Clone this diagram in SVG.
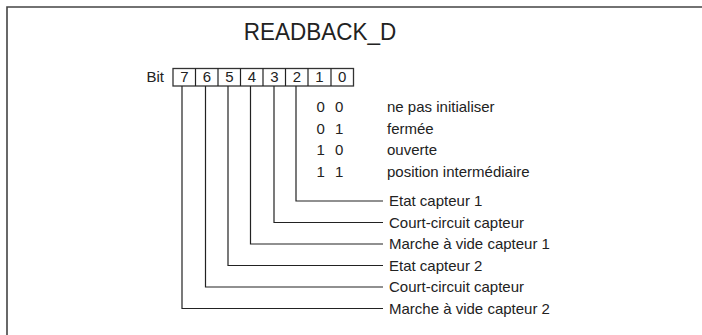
<svg xmlns="http://www.w3.org/2000/svg" width="702" height="335" viewBox="0 0 702 335">
<style>
text{font-family:"Liberation Sans",Arial,Helvetica,sans-serif;fill:#222;}
.t{font-size:15px;}
.d{font-size:15px;text-anchor:middle;}
.ln{stroke:#222;stroke-width:1.2;fill:none;}
.bx{stroke:#333;stroke-width:1.3;fill:#fff;}
</style>
<rect width="702" height="335" fill="#fff"/>
<g id="frame"><path d="M7,335 V7 H702" fill="none" stroke="#444" stroke-width="1.6"/></g>
<g id="title"><text x="320" y="40" text-anchor="middle" transform="translate(0,-4) scale(1,1.1)" style="font-size:22.5px">READBACK_D</text></g>
<g id="register">
<text class="t" x="146.5" y="81.5">Bit</text>
<rect class="bx" x="173" y="68.5" width="180.5" height="17.5"/>
<path class="ln" d="M195.5,68.5V86M218,68.5V86M240.5,68.5V86M263,68.5V86M285.5,68.5V86M308,68.5V86M331,68.5V86"/>
<text class="d" x="184.3" y="82">7</text>
<text class="d" x="206.8" y="82">6</text>
<text class="d" x="229.3" y="82">5</text>
<text class="d" x="251.8" y="82">4</text>
<text class="d" x="274.3" y="82">3</text>
<text class="d" x="296.8" y="82">2</text>
<text class="d" x="319.5" y="82">1</text>
<text class="d" x="342.2" y="82">0</text>
</g>
<g id="codes">
<text class="t" x="316.5" y="112">0</text><text class="t" x="335" y="112">0</text><text class="t" x="387" y="112">ne pas initialiser</text>
<text class="t" x="316.5" y="133.5">0</text><text class="t" x="335" y="133.5">1</text><text class="t" x="387" y="133.5">fermée</text>
<text class="t" x="316.5" y="155">1</text><text class="t" x="335" y="155">0</text><text class="t" x="387" y="155">ouverte</text>
<text class="t" x="316.5" y="176.5">1</text><text class="t" x="335" y="176.5">1</text><text class="t" x="387" y="176.5">position intermédiaire</text>
</g>
<g id="connectors">
<path class="ln" d="M296,86V201H383"/>
<path class="ln" d="M274,86V222.5H383"/>
<path class="ln" d="M250.5,86V244H383"/>
<path class="ln" d="M228,86V265.5H383"/>
<path class="ln" d="M205.5,86V287H383"/>
<path class="ln" d="M182,86V308.5H383"/>
</g>
<g id="labels">
<text class="t" x="389" y="206">Etat capteur 1</text>
<text class="t" x="389" y="227.5">Court-circuit capteur</text>
<text class="t" x="389" y="249">Marche à vide capteur 1</text>
<text class="t" x="389" y="270.5">Etat capteur 2</text>
<text class="t" x="389" y="292">Court-circuit capteur</text>
<text class="t" x="389" y="313.5">Marche à vide capteur 2</text>
</g>
</svg>
